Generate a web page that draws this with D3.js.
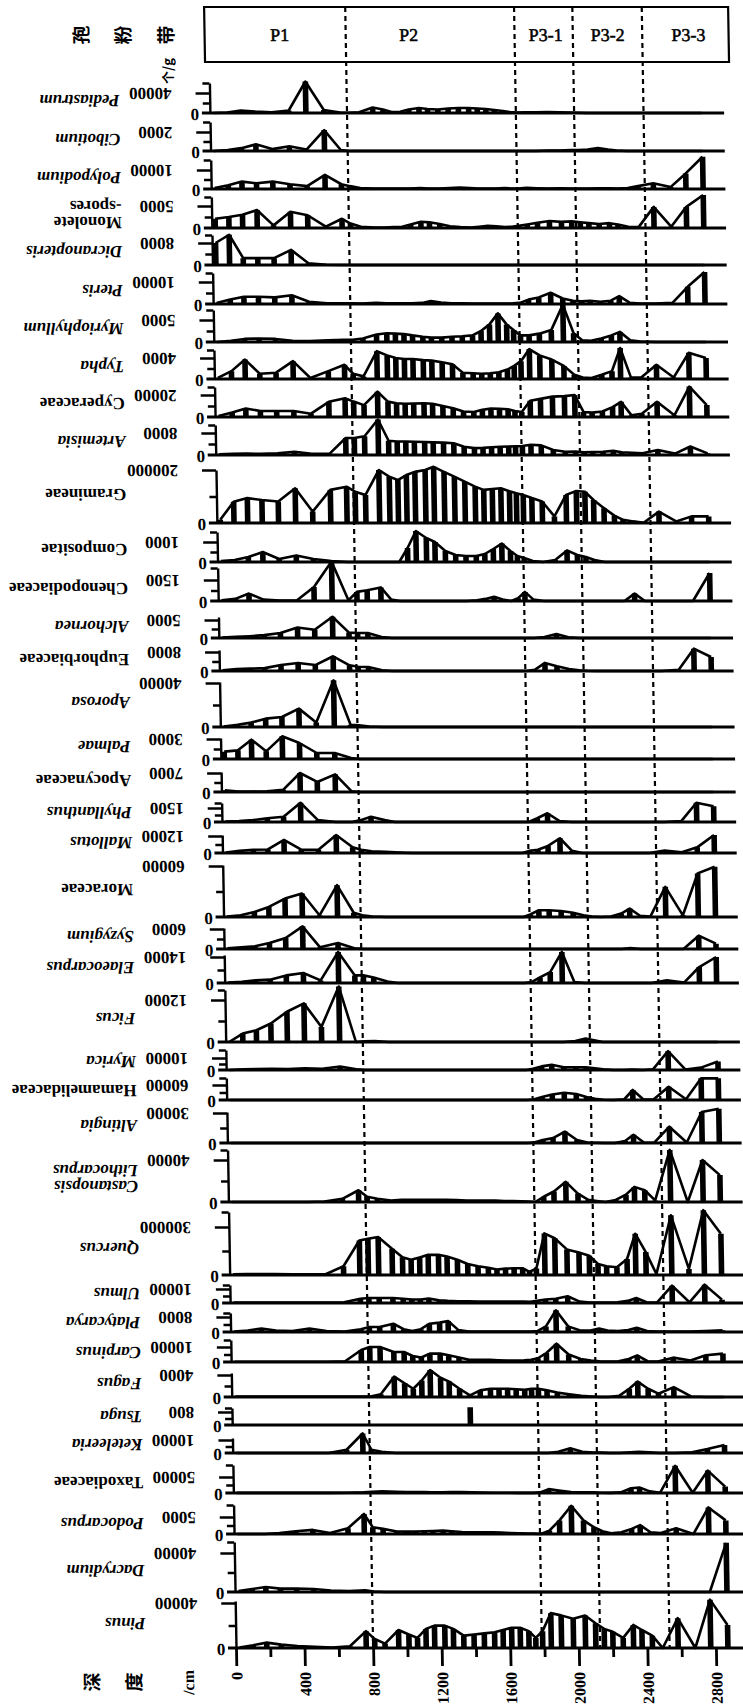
<!DOCTYPE html>
<html>
<head>
<meta charset="utf-8">
<script src="https://cdn.jsdelivr.net/npm/d3@7"></script>
<style>
  body { margin: 0; background: #fff; }
  svg text { font-family: "Liberation Serif", "Times New Roman", serif; fill: #000; }
</style>
</head>
<body>
<svg id="chart" width="743" height="1705"></svg>
<script>
// sample depths (cm)
var depths = [20,100,180,265,360,460,560,665,760,
  810,870,950,1010,1060,1110,1160,1220,1270,1330,1390,1450,1510,1560,1610,1660,1710,1750,
  1790,1840,1900,1970,2040,2100,
  2150,2200,2260,2320,2370,2430,2490,
  2580,2680,2770,2870];

// pollen zones
var zoneNames = ["P1", "P2", "P3-1", "P3-2", "P3-3"];
var zoneBounds = [800, 1785, 2125, 2530];
var zoneLabelDepth = [414, 1167, 1966, 2328, 2800];
var depthTicks = [0, 200, 400, 600, 800, 1000, 1200, 1400, 1600, 1800, 2000, 2200, 2400, 2600, 2800];

// taxa, top to bottom
var taxa = ["Pediastrum", "Cibotium", "Polypodium", "Monolete\n-spores", "Dicranopteris", "Pteris",
  "Myriophyllum", "Typha", "Cyperaceae", "Artemisia", "Gramineae", "Compositae", "Chenopodiaceae",
  "Alchornea", "Euphorbiaceae", "Aporosa", "Palmae", "Apocynaceae", "Phyllanthus", "Mallotus",
  "Moraceae", "Syzygium", "Elaeocarpus", "Ficus", "Myrica", "Hamamelidaceae", "Altingia",
  "Castanopsis\nLithocarpus", "Quercus", "Ulmus", "Platycarya", "Carpinus", "Fagus", "Tsuga",
  "Keteleeria", "Taxodiaceae", "Podocarpus", "Dacrydium", "Pinus"];
var labelTicks = [40000, 2000, 10000, 5000, 8000, 10000, 5000, 4000, 20000, 8000, 200000, 1000, 1500,
  5000, 8000, 40000, 3000, 7000, 1500, 12000, 60000, 6000, 14000, 12000, 10000, 60000, 30000,
  40000, 300000, 10000, 8000, 10000, 4000, 800, 10000, 50000, 5000, 40000, 40000];
var uprightTaxa = ["Monolete\n-spores", "Cyperaceae", "Gramineae", "Compositae", "Chenopodiaceae",
  "Euphorbiaceae", "Apocynaceae", "Moraceae", "Hamamelidaceae", "Taxodiaceae"];
var barOnlyTaxa = ["Tsuga"];

// concentrations (grains/g) at each depth
var pediastrum = [0,1000,5000,3000,1500,5000,63000,6000,1000, 500,1500,11000,7000,2000,2500,7000,10000,8000,7000,9000,10000,10000,9000,8000,6000,4000,2000, 1000,1500,1500,2000,1500,1000, 500,0,0,0,0,0,0, 0,0,0,0];
var cibotium = [0,100,300,700,200,500,150,2200,100, 0,0,0,0,0,0,0,0,0,0,0,0,0,0,0,0,0,0, 0,0,0,50,50,100, 100,150,300,150,50,0,0, 0,0,0,0];
var polypodium = [500,2000,3900,3000,3900,2500,1500,7400,2500, 1500,500,300,300,200,300,300,500,300,300,500,700,500,300,200,300,500,300, 300,600,400,300,400,300, 300,300,400,400,300,500,1500, 3000,1000,8200,17000];
var monolete = [2100,2500,3000,4100,600,3700,2900,300,2100, 1000,300,100,100,200,300,800,1400,1300,900,400,200,100,300,500,400,200,300, 500,800,1200,1600,1400,1500, 1300,1100,900,1100,800,300,200, 4800,300,4800,7500];
var dicranopteris = [8000,11000,2500,2500,2500,5500,600,100,0, 0,0,0,0,0,0,0,0,0,0,0,0,0,0,0,0,0,0, 0,0,0,0,0,0, 0,0,0,0,0,0,0, 0,0,0,0];
var pteris = [500,2000,3300,3300,3000,4000,1000,300,300, 300,200,500,300,300,300,300,500,1300,700,300,300,200,200,200,200,200,300, 500,2000,3000,5100,2500,1500, 1200,1500,1000,1500,3600,600,200, 200,500,7800,14500];
var myriophyllum = [0,300,700,800,700,300,200,400,500, 500,800,1700,2000,1900,1800,1500,1200,1000,1000,1200,1300,1500,2500,4000,6500,4000,2700, 1500,1500,1900,2700,8500,2000, 400,300,800,1500,2300,400,100, 0,0,0,0];
var typha = [200,1500,3700,1000,1200,3400,200,1500,2700, 1000,500,5300,4500,4000,3800,3800,3600,3500,3200,2800,1200,1100,1000,1100,1300,1800,2500, 3400,5700,4500,3700,2500,800, 300,200,800,1500,5900,300,300, 2700,300,5000,4000];
var cyperaceae = [1000,4000,7700,5500,5500,5500,3000,13800,17000, 14000,10800,23000,14000,12500,12000,12300,12500,12000,10000,8000,5000,4600,6500,7700,7500,7000,5500, 4600,14800,16500,18500,19000,20000, 4600,4000,5000,9000,13800,1500,3000, 13800,1500,27700,10800];
var artemisia = [300,400,500,400,600,1200,400,500,6200, 6200,6800,12900,5200,4900,4900,4800,4700,4600,4500,4300,3000,2500,2600,2800,3000,3100,3200, 3300,3700,3500,1800,1200,1300, 1000,1100,1200,1500,1000,800,600, 1800,500,3100,600];
var gramineae = [12000,80000,94000,87000,81000,131000,43000,125000,137000, 118000,106000,200000,175000,162000,181000,193000,200000,212000,193000,175000,156000,137000,125000,128000,131000,120000,112000, 106000,94000,81000,25000,106000,121000, 118000,87000,56000,28000,12000,6000,1000, 43000,6000,25000,25000];
var compositae = [50,100,250,500,150,330,150,50,0, 0,0,0,0,0,700,1550,1200,1000,550,350,300,300,400,650,920,550,300, 200,50,0,100,580,350, 250,100,0,0,0,0,0, 0,0,0,0];
var chenopodiaceae = [50,150,530,100,30,50,1000,2830,50, 650,770,970,100,0,0,0,0,0,0,0,0,50,150,300,100,0,200, 650,100,0,0,0,0, 0,0,0,0,0,530,0, 0,0,0,2000];
var alchornea = [100,300,500,800,1400,2900,2300,5900,1500, 1400,1400,300,0,0,0,0,0,0,0,0,0,0,0,0,0,0,0, 0,0,300,1100,200,0, 0,0,0,0,0,0,0, 0,0,0,0];
var euphorbiaceae = [300,800,1000,1200,2500,3400,2500,6200,2400, 1800,1700,300,0,0,0,0,0,0,0,0,0,0,0,0,0,0,0, 0,500,3400,2000,800,300, 100,0,0,0,0,0,0, 0,500,9400,5900];
var aporosa = [500,2000,4000,7600,9100,16700,4000,42400,2000, 1500,500,0,0,0,0,0,0,0,0,0,0,0,0,0,0,0,0, 0,0,0,0,0,0, 0,0,0,0,0,0,0, 0,0,0,0];
var palmae = [1100,1300,2900,1150,3400,2400,900,900,150, 0,0,0,0,0,0,0,0,0,0,0,0,0,0,0,0,0,0, 0,0,0,0,0,0, 0,0,0,0,0,0,0, 0,0,0,0];
var apocynaceae = [600,200,200,250,800,7000,3700,6500,250, 0,0,0,0,0,0,0,0,0,0,0,0,0,0,0,0,0,0, 0,0,0,0,0,0, 0,0,0,0,0,0,0, 0,0,0,0];
var phyllanthus = [50,100,200,400,560,2060,200,0,0, 200,560,200,0,0,0,0,0,0,0,0,0,0,0,0,0,0,0, 0,400,940,100,0,0, 0,0,0,0,0,0,0, 0,100,2060,1690];
var mallotus = [300,1500,2300,2500,9200,2300,2300,12700,4000, 2300,1200,800,500,200,0,0,0,0,0,0,0,0,0,0,0,0,0, 1500,2300,5000,10400,1500,0, 0,0,0,0,0,0,0, 1800,500,4000,12700];
var moraceae = [500,2000,6000,11800,21700,27600,2000,37500,5000, 2000,500,0,0,0,0,0,0,0,0,0,0,0,0,0,0,0,0, 3000,7900,7900,7000,5000,2000, 500,0,500,4000,9900,1500,500, 35500,2000,51300,59200];
var syzygium = [200,500,800,1800,3300,6800,500,1800,200, 0,0,0,0,0,0,0,0,0,0,0,0,0,0,0,0,0,0, 0,0,0,0,0,0, 0,0,0,0,300,0,0, 0,0,4000,1600];
var elaeocarpus = [200,600,1400,1800,4100,5400,1400,16700,4100, 4100,3000,800,0,0,0,0,0,0,0,0,0,0,0,0,0,0,0, 500,3000,5900,16700,500,0, 0,0,0,0,0,0,0, 1400,200,8600,14000];
var ficus = [0,2400,3360,5280,8640,11040,4320,15840,0, 200,300,0,0,0,0,0,0,0,0,0,0,0,0,0,0,0,0, 0,0,0,0,300,960, 500,0,0,0,0,0,0, 0,0,0,0];
var myrica = [0,500,800,1000,800,1400,1000,2900,500, 0,0,0,0,0,0,0,0,0,0,0,0,0,0,0,0,0,0, 1000,3000,4300,2300,2300,2300, 1500,500,0,0,300,0,500, 15700,300,2000,7100];
var hamamelidaceae = [0,0,0,0,0,0,0,0,0, 0,0,0,0,0,0,0,0,0,0,0,0,0,0,0,0,0,0, 2000,12000,22000,29000,24000,12000, 5000,1000,0,3000,40000,3000,2000, 53000,3000,86700,86700];
var altingia = [0,0,0,0,0,0,0,0,0, 0,0,0,0,0,0,0,0,0,0,0,0,0,0,0,0,0,0, 500,3000,4900,11400,3000,500, 300,0,0,2000,8200,500,300, 16300,500,31000,34200];
var castanopsis = [0,0,0,0,0,0,500,3000,11200, 5000,3000,1500,2000,2200,2200,2200,2000,2000,1800,1500,1500,1500,1300,1000,800,700,500, 0,5000,10000,19200,8000,2000, 1000,0,2000,7000,14400,11200,1500, 49600,0,40000,25600];
var quercus = [5000,6000,6000,6000,5000,4000,5000,55000,216000, 227000,237000,164000,111000,95000,110000,126000,126000,115000,95000,69000,55000,45000,34000,40000,42000,42000,20000, 40000,260000,230000,160000,140000,120000, 69000,55000,48000,100000,258000,143000,6000, 373000,38000,405000,258000];
var ulmus = [300,300,300,300,300,300,300,500,3000, 3600,3600,3600,3000,2500,2500,3100,2000,1500,1200,1200,1000,1000,1000,1000,1000,1000,800, 1500,2500,3000,4800,1000,300, 300,300,500,1500,3600,500,300, 12400,500,13100,2400];
var platycarya = [300,800,1800,800,500,1800,500,300,1500, 2700,2700,4400,1500,500,1500,4400,5000,5900,1000,300,200,200,200,200,200,200,300, 500,3000,11600,3000,800,800, 1800,800,500,1000,2300,500,300, 200,300,500,900];
var carpinus = [200,200,200,200,200,200,200,500,8000, 10000,10000,6700,6700,4000,3000,5600,5600,4500,3000,1500,1500,1500,1200,1000,1000,1200,1500, 2500,6000,12200,5000,2000,1000, 500,300,500,2000,4400,500,300, 2900,1000,4500,5600];
var fagus = [100,100,100,100,100,100,100,100,100, 100,500,3700,2500,1500,3000,4900,3500,2800,1500,300,1200,1500,1500,1500,1400,1300,1500, 1500,1200,800,500,200,100, 0,0,200,1500,2800,1500,600, 1800,100,0,0];
var tsuga = [0,0,0,0,0,0,0,0,0, 0,0,0,0,0,0,0,0,0,0,1100,0,0,0,0,0,0,0, 0,0,0,0,0,0, 0,0,0,0,0,0,0, 0,0,0,0];
var keteleeria = [0,0,0,0,0,0,0,2500,15000, 2500,1000,0,0,0,0,0,0,0,0,0,0,0,0,0,0,0,0, 0,0,1000,3700,1000,300, 300,0,0,500,1000,500,0, 0,500,3000,6200];
var taxodiaceae = [500,500,500,500,500,500,500,1000,2000, 4000,5000,4000,3000,3000,3000,2000,2000,3000,3000,2000,1500,1000,1000,1000,500,500,500, 2000,12000,8000,3000,2000,2000, 1000,500,2000,15000,17000,5000,1000, 85000,1000,70000,20000];
var podocarpus = [0,0,0,300,800,1200,300,1700,5900, 2000,1500,750,700,750,800,900,1000,800,600,500,500,500,400,300,200,100,100, 0,1000,4000,8300,4000,2000, 800,200,500,1500,2600,500,300, 1700,0,7800,4000];
var dacrydium = [1000,3000,5200,3500,3500,3000,1500,1000,1700, 500,0,0,0,0,0,0,0,0,0,0,0,0,0,0,0,0,0, 0,0,0,0,0,0, 0,0,0,0,0,0,0, 0,0,0,50400];
var pinus = [500,2500,4800,3000,1800,1000,500,1500,15000, 8000,3900,16000,12000,9000,17000,19900,19900,17000,11000,12000,13000,14000,16000,18000,18000,15000,9000, 15000,31000,29000,25900,28900,22000, 17000,14400,9000,20500,16000,11000,0, 26500,0,43000,20500];

var series = [pediastrum, cibotium, polypodium, monolete, dicranopteris, pteris, myriophyllum, typha,
  cyperaceae, artemisia, gramineae, compositae, chenopodiaceae, alchornea, euphorbiaceae, aporosa,
  palmae, apocynaceae, phyllanthus, mallotus, moraceae, syzygium, elaeocarpus, ficus, myrica,
  hamamelidaceae, altingia, castanopsis, quercus, ulmus, platycarya, carpinus, fagus, tsuga,
  keteleeria, taxodiaceae, podocarpus, dacrydium, pinus];

// strip layout (px): axis top, labelled tick, baseline
var stripTop = [83,122,160,197,235,273,310,350,387,425,470,532,568,617,650,682,738,772,803,835,865,928,955,990,1050,1078,1112,1150,1212,1285,1313,1340,1373,1408,1438,1465,1505,1542,1601];
var stripTickY = [93,132,170,206,243,282,320,358,395,433,470,542,580,620,652,683,739,773,808,836,866,929,957,1000,1058,1085,1113,1160,1227,1289,1317,1347,1375,1412,1440,1477,1517,1553,1603];
var stripBase = [113,151,189,228,265,304,342,379,417,455,523,562,601,638,671,727,759,792,822,853,917,949,983,1042,1070,1100,1143,1202,1275,1303,1332,1362,1397,1425,1453,1493,1534,1592,1648];

var svg = d3.select("#chart");
svg.append("rect").attr("width", 743).attr("height", 1705).attr("fill", "#fff");

// the scanned figure leans slightly: shear around the depth axis
var shear = 0.017, pivotY = 1648;
var root = svg.append("g")
  .attr("transform", "matrix(1,0," + shear + ",1," + (-shear * pivotY) + ",0)");

var x = d3.scaleLinear().domain([0, 3000]).range([236, 750.2]);

// zone header box
root.append("rect")
  .attr("x", 232).attr("y", 7).attr("width", 524).attr("height", 55)
  .attr("fill", "none").attr("stroke", "#000").attr("stroke-width", 2.2);

root.selectAll("text.zone")
  .data(zoneNames)
  .enter().append("text")
  .attr("class", "zone")
  .attr("x", function(d, i) { return x(zoneLabelDepth[i]); })
  .attr("y", 35)
  .attr("text-anchor", "middle")
  .attr("dominant-baseline", "central")
  .style("font-size", "18px")
  .style("stroke", "#000").style("stroke-width", 0.5)
  .text(function(d) { return d; });

// zone boundaries
root.selectAll("line.zoneline")
  .data(zoneBounds)
  .enter().append("line")
  .attr("x1", function(d) { return x(d); })
  .attr("x2", function(d) { return x(d); })
  .attr("y1", 7).attr("y2", pivotY)
  .attr("stroke", "#000").attr("stroke-width", 2.2)
  .attr("stroke-dasharray", "5,4");

// rotated CJK captions
function cjk(txt, cx, cy, size) {
  root.append("text")
    .attr("transform", "translate(" + cx + "," + cy + ") rotate(-90)")
    .attr("text-anchor", "middle")
    .attr("dominant-baseline", "central")
    .style("font-family", "'Noto Sans CJK SC', sans-serif")
    .style("font-weight", "bold")
    .style("font-size", size + "px")
    .text(txt);
}
cjk("孢", 107, 35, 19);
cjk("粉", 149, 35, 19);
cjk("带", 192, 35, 19);
cjk("个/g", 194, 71, 13);
cjk("深", 90, 1682, 19);
cjk("度", 132, 1682, 19);

root.append("text")
  .attr("transform", "translate(188,1670) rotate(-90)")
  .attr("text-anchor", "end")
  .attr("dominant-baseline", "central")
  .style("font-size", "16px").style("font-weight", "bold")
  .text("/cm");

// one strip per taxon
taxa.forEach(function(name, i) {
  var vals = series[i];
  var yy = d3.scaleLinear().domain([0, labelTicks[i]]).range([stripBase[i], stripTickY[i]]);
  var topVal = yy.invert(stripTop[i]);
  var y = d3.scaleLinear().domain([0, topVal]).range([stripBase[i], stripTop[i]]);

  var g = root.append("g");

  // baseline
  g.append("line")
    .attr("x1", x(0) - 8).attr("x2", x(3000))
    .attr("y1", y(0)).attr("y2", y(0))
    .attr("stroke", "#000").attr("stroke-width", 3);

  // y axis
  var tv = [labelTicks[i] / 2, labelTicks[i]];
  if (stripTickY[i] - stripTop[i] > 3) tv.push(topVal);
  var ax = g.append("g").attr("transform", "translate(" + x(0) + ",0)")
    .call(d3.axisLeft(y).tickValues(tv).tickSize(7).tickSizeOuter(0).tickFormat(""));
  ax.select(".domain").attr("stroke-width", 2.4);
  ax.selectAll(".tick line")
    .attr("stroke-width", 2.4)
    .attr("x2", function(d) { return d === labelTicks[i] ? -14 : -7; });

  // samples
  var pts = depths.map(function(d, j) { return [d, vals[j]]; });

  if (barOnlyTaxa.indexOf(name) < 0) {
    g.append("path")
      .datum(pts)
      .attr("fill", "none")
      .attr("stroke", "#000")
      .attr("stroke-width", 2.6)
      .attr("stroke-linejoin", "round")
      .attr("d", d3.line().x(function(p) { return x(p[0]); }).y(function(p) { return y(p[1]); }));
  }

  g.selectAll("rect.bar")
    .data(pts.filter(function(p) { return p[1] > 0; }))
    .enter().append("rect")
    .attr("class", "bar")
    .attr("x", function(p) { return x(p[0]) - 2.8; })
    .attr("width", 5.6)
    .attr("y", function(p) { return y(p[1]); })
    .attr("height", function(p) { return y(0) - y(p[1]); })
    .attr("fill", "#000");

  // tick labels (upside down, as in the figure)
  g.append("text")
    .attr("transform", "translate(198," + yy(labelTicks[i]) + ") rotate(180)")
    .attr("text-anchor", "start")
    .attr("dominant-baseline", "central")
    .style("font-size", "17px").style("font-weight", "bold")
    .text(labelTicks[i]);
  g.append("text")
    .attr("transform", "translate(221," + (y(0) + 1) + ") rotate(180)")
    .attr("text-anchor", "middle")
    .attr("dominant-baseline", "central")
    .style("font-size", "17px").style("font-weight", "bold")
    .text("0");

  // taxon name
  var lines = name.split("\n");
  var ly = (stripTickY[i] + stripBase[i]) / 2 - 2;
  var t = g.append("text")
    .attr("transform", "translate(146," + ly + ") rotate(180)")
    .attr("text-anchor", "start")
    .attr("dominant-baseline", "central")
    .style("font-size", "17px").style("font-weight", "bold")
    .style("font-style", uprightTaxa.indexOf(name) >= 0 ? "normal" : "italic");
  lines.forEach(function(l, k) {
    t.append("tspan")
      .attr("x", 0)
      .attr("y", (k - (lines.length - 1) / 2) * 16)
      .text(l);
  });
});

// depth axis
var axisG = root.append("g").attr("transform", "translate(0," + pivotY + ")");
axisG.call(d3.axisBottom(x).tickValues(depthTicks).tickSize(18)
  .tickFormat(function(d) { return d % 400 === 0 ? d : ""; }));
axisG.select(".domain").remove();
axisG.selectAll(".tick line")
  .attr("stroke-width", 2.8)
  .attr("y2", function(d) { return d % 400 === 0 ? 18 : 9; });
axisG.selectAll(".tick text")
  .attr("y", null).attr("dy", null)
  .attr("transform", "translate(0,24) rotate(-90)")
  .attr("text-anchor", "end")
  .attr("dominant-baseline", "central")
  .style("font-family", "'Liberation Serif', serif")
  .style("font-size", "16px").style("font-weight", "bold");
</script>
</body>
</html>
